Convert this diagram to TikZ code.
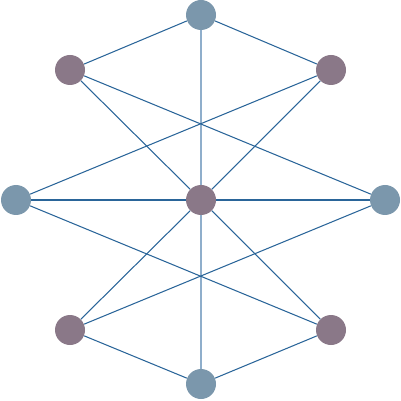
\documentclass[tikz,border=0pt]{standalone}
\definecolor{steel}{HTML}{7B97AC}
\definecolor{mauve}{HTML}{8A7888}
\definecolor{edgeblue}{HTML}{2A6599}
\definecolor{vertblue}{HTML}{8FAECB}
\tikzset{
  outer/.style={circle,fill=steel,minimum size=30*0.02cm,inner sep=0pt},
  inner/.style={circle,fill=mauve,minimum size=30*0.02cm,inner sep=0pt},
  edge/.style={draw=edgeblue,line width=0.6pt},
  vedge/.style={draw=vertblue,line width=0.8pt}
}
\begin{document}
\begin{tikzpicture}[x=0.02cm,y=-0.02cm]
  \useasboundingbox (0,0) rectangle (401,401);
  \node[outer] (t) at (201,15) {};
  \node[inner] (ul) at (70,70) {};
  \node[inner] (ur) at (331,70) {};
  \node[outer] (l) at (16,200) {};
  \node[inner] (c) at (201,200) {};
  \node[outer] (r) at (385,200) {};
  \node[inner] (ll) at (70,330) {};
  \node[inner] (lr) at (331,330) {};
  \node[outer] (b) at (201,384) {};
  % vertical axis
  \path[vedge] (t) -- (c) (c) -- (b);
  % outer edges
  \path[edge] (t) -- (ul) (t) -- (ur) (b) -- (ll) (b) -- (lr);
  \path[edge] (l) -- (c) (c) -- (r);
  \path[edge] (ul) -- (c) (ur) -- (c) (ll) -- (c) (lr) -- (c);
  \path[edge] (ul) -- (r) (ur) -- (l) (ll) -- (r) (lr) -- (l);
\end{tikzpicture}
\end{document}
